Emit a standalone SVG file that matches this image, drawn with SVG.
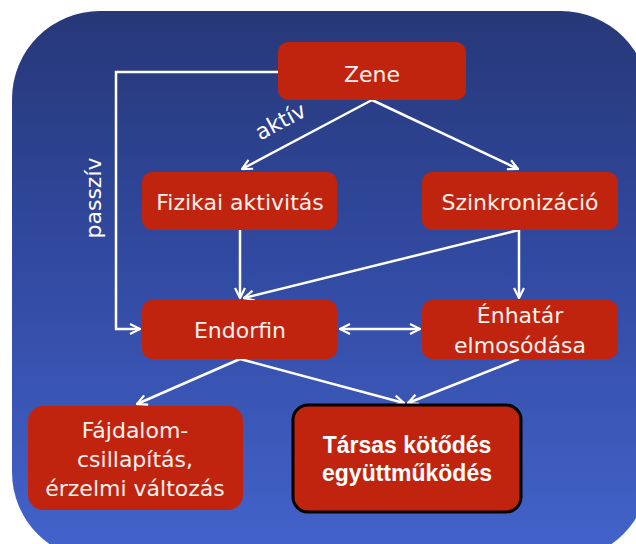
<svg xmlns="http://www.w3.org/2000/svg" width="636" height="544" viewBox="0 0 636 544">
  <defs>
    <linearGradient id="bg" x1="0" y1="0" x2="0" y2="1">
      <stop offset="0" stop-color="#273878"/>
      <stop offset="0.45" stop-color="#3149a0"/>
      <stop offset="1" stop-color="#4464cc"/>
    </linearGradient>
    <marker id="arr" viewBox="0 0 12 12" refX="11" refY="6" markerWidth="12" markerHeight="12" markerUnits="userSpaceOnUse" orient="auto-start-reverse">
      <path d="M1,1 L11,6 L1,11" fill="none" stroke="#ffffff" stroke-width="2.2" stroke-linejoin="miter"/>
    </marker>
    <style>
      .box { fill: #c1240e; }
      .lbl { font-family: "DejaVu Sans", sans-serif; font-size: 22px; fill: #fdf1ee; text-anchor: middle; }
      .bold { font-family: "Liberation Sans", Arial, sans-serif; font-weight: bold; font-size: 23px; fill: #ffffff; text-anchor: middle; }
      .edge { fill: none; stroke: #ffffff; stroke-width: 2.5; marker-end: url(#arr); }
      .elab { font-family: "DejaVu Sans", sans-serif; font-size: 22px; fill: #ffffff; }
    </style>
  </defs>
  <rect width="636" height="544" fill="#ffffff"/>
  <rect x="12" y="11" width="637" height="549" rx="88" ry="88" fill="url(#bg)"/>

  <g id="connectors">
    <line class="edge" x1="372" y1="100" x2="242" y2="169"/>
    <line class="edge" x1="372" y1="100" x2="518" y2="169"/>
    <polyline class="edge" points="278,72 116,72 116,329 140,329"/>
    <line class="edge" x1="240" y1="230" x2="240" y2="298"/>
    <line class="edge" x1="519" y1="230" x2="244" y2="298"/>
    <line class="edge" x1="519" y1="230" x2="519" y2="298"/>
    <line class="edge" x1="340" y1="329" x2="420" y2="329" style="marker-start:url(#arr)"/>
    <line class="edge" x1="240" y1="359" x2="137" y2="404"/>
    <line class="edge" x1="240" y1="359" x2="404" y2="403"/>
    <line class="edge" x1="519" y1="359" x2="408" y2="403"/>
    <text class="elab" transform="translate(284,128) rotate(-28)" text-anchor="middle">aktív</text>
    <text class="elab" transform="translate(101,198) rotate(-90)" text-anchor="middle">passzív</text>
  </g>

  <g id="zene">
    <rect class="box" x="278" y="42" width="188" height="58" rx="10"/>
    <text class="lbl" x="372" y="82">Zene</text>
  </g>
  <g id="fizikai">
    <rect class="box" x="142" y="172" width="195" height="58" rx="10"/>
    <text class="lbl" x="240" y="210">Fizikai aktivitás</text>
  </g>
  <g id="szinkronizacio">
    <rect class="box" x="422" y="172" width="196" height="58" rx="10"/>
    <text class="lbl" x="520" y="210">Szinkronizáció</text>
  </g>
  <g id="endorfin">
    <rect class="box" x="142" y="300" width="195" height="59" rx="10"/>
    <text class="lbl" x="240" y="338">Endorfin</text>
  </g>
  <g id="enhatar">
    <rect class="box" x="422" y="300" width="196" height="59" rx="10"/>
    <text class="lbl" x="520" y="323">Énhatár</text>
    <text class="lbl" x="520" y="353">elmosódása</text>
  </g>
  <g id="fajdalom">
    <rect class="box" x="28" y="406" width="215" height="104" rx="15"/>
    <text class="lbl" x="135" y="438">Fájdalom-</text>
    <text class="lbl" x="135" y="467">csillapítás,</text>
    <text class="lbl" x="135" y="496">érzelmi változás</text>
  </g>
  <g id="tarsas">
    <rect class="box" x="293" y="405" width="228" height="107" rx="15" stroke="#000000" stroke-width="3"/>
    <text class="bold" x="407" y="453">Társas kötődés</text>
    <text class="bold" x="407" y="481">együttműködés</text>
  </g>
</svg>
